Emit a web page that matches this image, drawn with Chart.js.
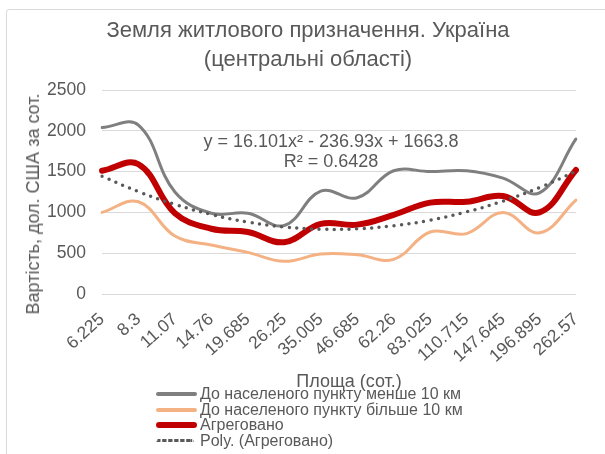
<!DOCTYPE html>
<html>
<head>
<meta charset="utf-8">
<script src="https://cdn.jsdelivr.net/npm/chart.js@4"></script>
<style>
  body { margin: 0; background: #fff; font-family: "Liberation Sans", Arial, sans-serif; color: #595959; }
  #wrap { position: relative; width: 605px; height: 454px; overflow: hidden; }
  #frame { position: absolute; left: 6px; top: 9px; width: 640px; height: 500px; border: 1px solid #d9d9d9; border-radius: 3px; }
  #graph-area { position: absolute; left: 0; top: 0; }
  .txt { position: absolute; white-space: nowrap; text-align: center; }
  #title { left: 58px; width: 500px; top: 15px; font-size: 22px; line-height: 29px; }
  #eq { left: 181px; width: 300px; top: 132px; font-size: 18px; line-height: 19.5px; }
  #xtitle { left: 249px; width: 200px; top: 372px; font-size: 18px; line-height: 18px; }
  #ytitle { left: 33px; top: 204px; font-size: 18px; line-height: 18px; transform: translate(-50%, -50%) rotate(-90deg); }
  #legend { position: absolute; left: 156px; top: 386px; font-size: 16px; line-height: 15.7px; }
  .item { display: flex; align-items: center; white-space: nowrap; height: 15.7px; }
  .sw { width: 41px; height: 0; margin-right: 3px; border-top-style: solid; border-radius: 3px; }
</style>
</head>
<body>
<div id="wrap">
  <div id="frame"></div>
  <canvas id="graph-area" width="605" height="454"></canvas>
  <div class="txt" id="title">Земля житлового призначення. Україна<br>(центральні області)</div>
  <div class="txt" id="eq">y = 16.101x² - 236.93x + 1663.8<br>R² = 0.6428</div>
  <div class="txt" id="xtitle">Площа (сот.)</div>
  <div class="txt" id="ytitle">Вартість, дол. США за сот.</div>
  <div id="legend"></div>
</div>
<script>
// площа ділянки (сот.)
var categories = ["6.225", "8.3", "11.07", "14.76", "19.685", "26.25", "35.005", "46.685", "62.26", "83.025", "110.715", "147.645", "196.895", "262.57"];
// до населеного пункту менше 10 км
var nearValues = [2040, 2070, 1250, 990, 990, 840, 1260, 1180, 1510, 1500, 1510, 1420, 1240, 1900];
// до населеного пункту більше 10 км
var farValues = [1000, 1130, 710, 600, 510, 400, 490, 480, 425, 760, 740, 1000, 750, 1150];
// агреговано
var aggValues = [1510, 1590, 990, 800, 760, 635, 860, 850, 970, 1120, 1130, 1200, 1000, 1520];
// поліноміальний тренд (агреговано)
var trendValues = [1443, 1254, 1098, 974, 882, 822, 794, 799, 836, 905, 1006, 1139, 1305, 1503];
var yTicks = [0, 500, 1000, 1500, 2000, 2500];

var labelNear = "До населеного пункту менше 10 км";
var labelFar = "До населеного пункту більше 10 км";
var labelAgg = "Агреговано";
var labelTrend = "Poly. (Агреговано)";

var textColor = "#595959";
var fontFamily = "'Liberation Sans', Arial, sans-serif";

var mydata = {
  labels: categories,
  datasets: [
    { label: labelTrend, data: trendValues, borderColor: "#595959", borderWidth: 3.5, borderDash: [0, 7.5], borderCapStyle: "round", order: 0 },
    { label: labelAgg, data: aggValues, borderColor: "#c00000", borderWidth: 6, borderCapStyle: "round", order: 1 },
    { label: labelFar, data: farValues, borderColor: "#f4b183", borderWidth: 3, borderCapStyle: "round", order: 2 },
    { label: labelNear, data: nearValues, borderColor: "#7f7f7f", borderWidth: 3, borderCapStyle: "round", order: 3 }
  ]
};

var options = {
  responsive: false,
  animation: false,
  layout: { padding: { top: 90, right: 12, bottom: 0, left: 0 } },
  elements: { point: { radius: 0 }, line: { tension: 0.4, fill: false } },
  plugins: { legend: { display: false }, tooltip: { enabled: false } },
  scales: {
    x: {
      grid: { display: false, drawTicks: false },
      border: { display: false },
      ticks: { color: textColor, font: { family: fontFamily, size: 17.5 }, minRotation: 42, maxRotation: 42, padding: 15, autoSkip: false },
      afterFit: function (scale) { scale.height = 160; }
    },
    y: {
      min: 0, max: 2500,
      afterBuildTicks: function (scale) { scale.ticks = yTicks.map(function (v) { return { value: v }; }); },
      grid: { color: "#d9d9d9", drawTicks: false },
      border: { display: false },
      ticks: { color: textColor, font: { family: fontFamily, size: 17.5 }, padding: 16, callback: function (v) { return String(v); } },
      afterFit: function (scale) { scale.width = 102; }
    }
  }
};

var canvas = document.getElementById("graph-area");
var chart = new Chart(canvas, { type: "line", data: mydata, options: options });

// легенда (у порядку серій Excel)
var legend = document.getElementById("legend");
[3, 2, 1, 0].forEach(function (i) {
  var ds = mydata.datasets[i];
  var row = document.createElement("div");
  row.className = "item";
  var sw = document.createElement("span");
  sw.className = "sw";
  sw.style.borderTopColor = ds.borderColor;
  sw.style.borderTopWidth = (ds.borderWidth > 4 ? 6 : 4) + "px";
  if (ds.borderDash) { sw.style.borderTopStyle = "dotted"; sw.style.borderTopWidth = "3px"; sw.style.width = "38px"; sw.style.marginRight = "6px"; }
  var t = document.createElement("span");
  t.textContent = ds.label;
  row.appendChild(sw);
  row.appendChild(t);
  legend.appendChild(row);
});
</script>
</body>
</html>
